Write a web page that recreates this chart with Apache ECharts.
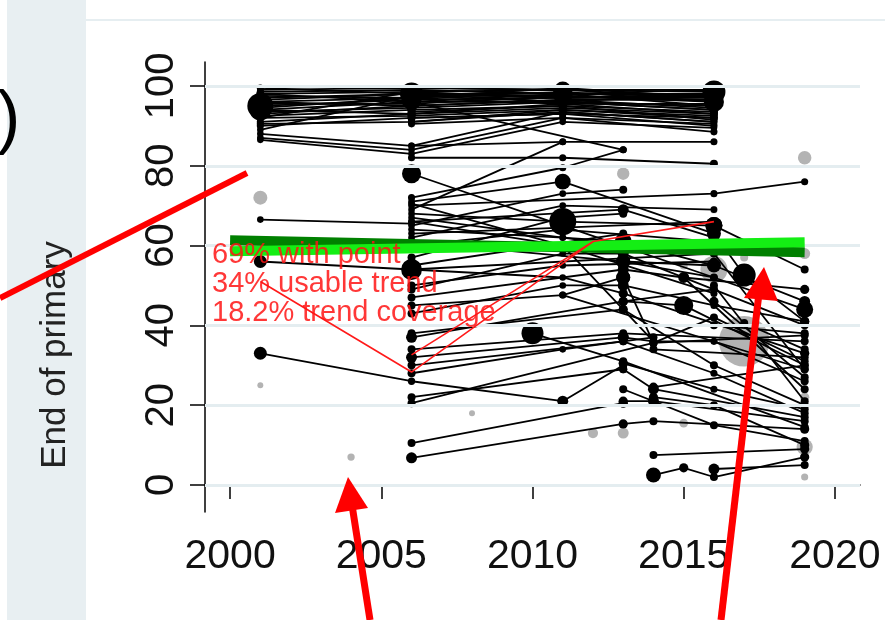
<!DOCTYPE html>
<html><head><meta charset="utf-8">
<script src="https://cdn.jsdelivr.net/npm/echarts@6/dist/echarts.min.js"></script>
<style>html,body{margin:0;padding:0;background:#fff}#c{width:885px;height:620px}</style>
</head><body><div id="c"></div>
<script>
// ---- data: [year, value, population weight] ----
const xTicks = [2000, 2005, 2010, 2015, 2020];
const yTicks = [0, 20, 40, 60, 80, 100];
const yTitle = 'End of primary';
const noteLines = ['69% with point', '34% usable trend', '18.2% trend coverage'];

const topPaths = [
  [[2001,99,0.3],[2006,99.5,0.3],[2011,99,0.3],[2016,99,0.3]],
  [[2001,98,1],[2006,98.5,2],[2011,99,16],[2016,98.5,36]],
  [[2001,97,4],[2006,98,36],[2011,98,25],[2016,97.5,4]],
  [[2001,96,16],[2006,97,4],[2011,98.5,1],[2016,96,25]],
  [[2001,95,49],[2006,96.5,25],[2011,97,4],[2016,97,4]],
  [[2001,94,30],[2006,96,9],[2011,96,2],[2016,95,2]],
  [[2001,93,2],[2006,95,4],[2011,96.5,1],[2016,94.5,1]],
  [[2001,92.5,1],[2006,94,1],[2011,95,1],[2016,93.5,1]],
  [[2001,91,0.5],[2006,93,1],[2011,94.5,0.5],[2016,93,0.5]],
  [[2001,90,0.5],[2006,92,0.5],[2011,93,0.5],[2016,92,0.5]],
  [[2001,89,0.3],[2006,97.5,0.5],[2011,97.5,0.5],[2016,96.5,0.5]],
  [[2001,88,0.3],[2006,85,0.3],[2011,93.5,0.3],[2016,91,0.3]],
  [[2001,87,0.3],[2006,84,0.3],[2011,92,0.3],[2016,90.5,0.3]],
  [[2001,86.5,0.3],[2006,83,0.3],[2011,91,0.3],[2016,89.5,0.3]],
  [[2006,99,0.5],[2011,98,0.5],[2016,98,1]],
  [[2006,91,0.5],[2011,94,0.5],[2016,92.5,0.5]],
  [[2006,96,0.3],[2013,84,0.5]],
  [[2001,98.5,0.5],[2006,99,1],[2011,98,1],[2016,99,4]],
  [[2001,97.5,1],[2006,97,1],[2011,99.5,1],[2016,97,1]],
  [[2001,96.5,2],[2006,98,4],[2011,96,1],[2016,98,2]],
  [[2001,95.5,4],[2006,95.5,2],[2011,97.5,1],[2016,96,2]],
  [[2001,94.5,9],[2006,97,2],[2011,95.5,1],[2016,95.5,1]],
  [[2001,93.5,1],[2006,94.5,2],[2011,96,1],[2016,94,1]],
  [[2006,93.5,1],[2011,95,1],[2016,91.5,0.5]],
  [[2006,92,1],[2011,93,0.5],[2016,90,0.5]],
  [[2006,90.5,0.5],[2011,92,0.5],[2016,88.5,0.5]],
  [[2001,92,0.5],[2006,98.5,2],[2011,97,2],[2016,97.5,2]],
  [[2001,99.5,0.5],[2006,98,1],[2011,97,1],[2016,98,2]],
  [[2001,98,0.5],[2006,96,1],[2011,98,1],[2016,95,1]],
  [[2001,96,1],[2006,95,1],[2011,96.5,1],[2016,96.5,1]],
  [[2001,94,1],[2006,93,1],[2011,95.5,1],[2016,93,1]],
  [[2001,92,0.5],[2006,92.5,1],[2011,94,1],[2016,92,1]],
  [[2001,90.5,0.5],[2006,91,0.5],[2011,93.5,0.5],[2016,91,0.5]],
  [[2006,99.5,1],[2011,99,1],[2016,97,1]],
  [[2006,97.5,1],[2011,96,1],[2016,94,1]]
];

const midPaths = [
  [[2001,66.5,0.3],[2006,65.5,0.3]],
  [[2001,56,7],[2006,54,28],[2016,58,0.5]],
  [[2001,33,7],[2006,26,0.6],[2011,21,4],[2013,30,1]],
  [[2006,85,0.3],[2011,86,0.5],[2016,86,0.5]],
  [[2006,82,0.5],[2011,82,0.5],[2016,80.5,1]],
  [[2006,78,22],[2011,65,0.3],[2016,52,0.5]],
  [[2006,72,0.5],[2011,79.5,0.5],[2013,84,0.5]],
  [[2006,71,0.3],[2011,76,13],[2016,63,1]],
  [[2006,69,0.3],[2011,86,0.3]],
  [[2006,70,0.3],[2016,73,0.5],[2019,76,0.5]],
  [[2006,68,0.3],[2011,66,54],[2016,65,16]],
  [[2006,66,0.3],[2013,69,4],[2016,62,4]],
  [[2006,64,0.3],[2011,62,0.5],[2013,61,16]],
  [[2006,62,0.3],[2011,70,0.3],[2016,69,0.3]],
  [[2006,61,1],[2013,56,9],[2016,55,4]],
  [[2006,49,1],[2011,58,0.3],[2013,58,4]],
  [[2006,45,1],[2011,47.6,0.5],[2013,52,9]],
  [[2006,37,4],[2013,46,2],[2016,49,1]],
  [[2006,32,4],[2013,37,4]],
  [[2006,22,1],[2013,29,1]],
  [[2006,20.5,1],[2014,35.6,1]],
  [[2006,10.5,1],[2013,20.5,2]],
  [[2006,6.8,4],[2013,15.3,2]],
  [[2010,38,32],[2013,31,1],[2019,14.5,1]],
  [[2006,54,4],[2011,52,0.3],[2013,48,1]],
  [[2006,66,0.3],[2011,60,0.3],[2014,36,1]],
  [[2011,47.6,0.5],[2019,29,1]],
  [[2006,70.5,0.3],[2011,60,0.3],[2016,48,0.5]],
  [[2006,67,0.3],[2013,60,1]],
  [[2006,65,0.3],[2011,73,0.3],[2013,74,1]],
  [[2006,63,0.3],[2016,66,1]],
  [[2006,60,0.3],[2011,64,0.3],[2016,61,1]],
  [[2006,57,1],[2011,67,0.3],[2013,68,1]],
  [[2006,55,1],[2013,63,1]],
  [[2006,50,1],[2011,55,0.3],[2016,56,1]],
  [[2006,47,1],[2013,54,2]],
  [[2006,43,1],[2011,50,0.3],[2013,50,2]],
  [[2006,38,1],[2013,44,2]],
  [[2006,34,1],[2013,38,1],[2019,36,1]],
  [[2006,30,1],[2013,36,1]],
  [[2006,28,1],[2011,34,0.3],[2014,37,1]]
];

const latePaths = [
  [[2013,56,9],[2016,52,1],[2019,44,16]],
  [[2013,54,4],[2015,52,4],[2019,49,2]],
  [[2013,52,9],[2014,35.6,1],[2019,37.5,1]],
  [[2013,50,4],[2016,45,0.5],[2019,41,2]],
  [[2013,48,2],[2019,33,2]],
  [[2013,46,2],[2015,45,22],[2019,30,1]],
  [[2013,37,4],[2014,36,0.5],[2016,36,0.5],[2019,26,1]],
  [[2013,30.5,2],[2016,24,0.5],[2019,19,1]],
  [[2013,29,1],[2014,24,4],[2019,17,1]],
  [[2013,21,2],[2014,21,4],[2019,16,1]],
  [[2013,15.3,1],[2014,16,1],[2019,14,2]],
  [[2014,7.5,1],[2019,9,2]],
  [[2014,2.5,11],[2015,4.3,2],[2016,2,1],[2019,7,2]],
  [[2016,4,4],[2019,5,1]],
  [[2014,24.5,2],[2019,30,1]],
  [[2016,65,16],[2019,54,1]],
  [[2016,63,9],[2017,52.6,36],[2019,41,2]],
  [[2017,40.6,1],[2019,34,1]],
  [[2016,58,1],[2019,29,1]],
  [[2016,50,1],[2019,21,1]],
  [[2013,61,4],[2016,55,9],[2019,46,4]],
  [[2015,52,2],[2019,24,1]],
  [[2014,35.6,1],[2016,42,1],[2019,31,1]],
  [[2013,58,2],[2019,40,1]],
  [[2013,44,1],[2016,30,1],[2019,20,1]],
  [[2013,36,1],[2016,28,0.5],[2019,18,1]],
  [[2014,22,2],[2016,20,1],[2019,10,2]],
  [[2013,24,1],[2016,15,1],[2019,11,1]],
  [[2014,34,1],[2019,32,1]],
  [[2016,46,2],[2019,27,1]],
  [[2016,40,1],[2019,38,1]]
];

const grayPoints = [
  [2001,72,9],[2001,25,0.1],[2004,7,0.6],[2008,18,0.1],[2012,13,3],[2013,13,4],
  [2013,78,6],[2015,15.5,1.5],[2016,54,54],[2016,69,0.6],[2016,57,1],[2017,57,1],
  [2017,36,230],[2019,82,8],[2019,58,4],[2019,22,2],[2019,9.5,14],[2019,2,0.5],[2015,55,1]
];

const trendDark = [[2000,61.3],[2019,58.3]];
const trendLight = [[2000,58.6],[2019,60.8]];
const redPathA = [[2001,51],[2006,28.3],[2012,61],[2016,66]];
const redPathB = [[2006,32.6],[2012,61]];

// ---- chart ----
const FONT = '"Liberation Sans", Arial, sans-serif';
function popSize(v) { return 5 + 3 * Math.sqrt(v[2] == null ? 0.3 : v[2]); }

const pathSeries = [...topPaths, ...midPaths, ...latePaths].map(p => ({
  type: 'line', data: p, symbol: 'circle', symbolSize: popSize, showAllSymbol: true,
  lineStyle: { color: '#000', width: 1.8 }, itemStyle: { color: '#000' },
  silent: true, animation: false, z: 3, emphasis: { disabled: true }
}));

const chart = echarts.init(document.getElementById('c'), null, { renderer: 'canvas' });
chart.setOption({
  animation: false,
  backgroundColor: '#fff',
  grid: { left: 205, top: 62, right: 25, bottom: 108, containLabel: false },
  xAxis: {
    type: 'value', min: 1999.17, max: 2020.83,
    axisLine: { show: true, lineStyle: { color: '#000', width: 1.5 } },
    axisTick: { show: true, customValues: xTicks, length: 14, lineStyle: { color: '#000', width: 1.5 } },
    axisLabel: { customValues: xTicks, formatter: v => String(v), fontSize: 41, fontFamily: FONT, color: '#111', margin: 24 },
    splitLine: { show: false }
  },
  yAxis: {
    type: 'value', min: -6.77, max: 106,
    axisLine: { show: true, lineStyle: { color: '#000', width: 1.5 } },
    axisTick: { show: true, customValues: yTicks, length: 15, lineStyle: { color: '#000', width: 1.5 } },
    axisLabel: { customValues: yTicks, formatter: v => String(v), rotate: 90, fontSize: 40, fontFamily: FONT, color: '#111', margin: 23 },
    splitLine: { show: false }
  },
  series: [
    {
      type: 'scatter', data: grayPoints, symbolSize: popSize, z: 2, silent: true,
      itemStyle: { color: '#b3b3b3', opacity: 1 },
      markLine: {
        silent: true, symbol: 'none', label: { show: false }, animation: false,
        lineStyle: { color: '#e4edf0', width: 3, type: 'solid' },
        data: yTicks.map(v => ({ yAxis: v }))
      }
    },
    ...pathSeries,
    { type: 'line', data: trendDark, symbol: 'none', z: 5, silent: true,
      lineStyle: { color: '#008000', width: 10 } },
    { type: 'line', data: trendLight, symbol: 'none', z: 5, silent: true,
      lineStyle: { color: '#14ee14', width: 10 } },
    { type: 'line', data: redPathA, symbol: 'none', z: 6, silent: true,
      lineStyle: { color: '#ff1a1a', width: 1.6 } },
    { type: 'line', data: redPathB, symbol: 'none', z: 6, silent: true,
      lineStyle: { color: '#ff1a1a', width: 1.6 } }
  ],
  graphic: [
    { type: 'rect', z: -10, shape: { x: 7, y: 0, width: 79, height: 620 }, style: { fill: '#e8eff2' } },
    { type: 'line', z: -10, shape: { x1: 86, y1: 20, x2: 885, y2: 20 }, style: { stroke: '#e6eef1', lineWidth: 2 } },
    { type: 'text', z: 50, x: -3, y: 121, style: { text: ')', font: '70px ' + FONT, fill: '#000', verticalAlign: 'middle' } },
    { type: 'text', z: 50, x: 55, y: 355, rotation: Math.PI / 2,
      style: { text: yTitle, font: '35px ' + FONT, fill: '#222', align: 'center', verticalAlign: 'middle' } },
    ...noteLines.map((t, i) => ({ type: 'text', z: 60, x: 212, y: 255 + i * 29,
      style: { text: t, font: '29px ' + FONT, fill: 'rgba(255,20,20,0.85)', verticalAlign: 'middle' } })),
    { type: 'line', z: 70, shape: { x1: 0, y1: 298, x2: 247, y2: 173 }, style: { stroke: '#ff0000', lineWidth: 6 } },
    { type: 'line', z: 70, shape: { x1: 370, y1: 620, x2: 352, y2: 505 }, style: { stroke: '#ff0000', lineWidth: 7 } },
    { type: 'polygon', z: 70, shape: { points: [[348, 477], [335, 513], [368, 508]] }, style: { fill: '#ff0000' } },
    { type: 'line', z: 70, shape: { x1: 721, y1: 620, x2: 759, y2: 293 }, style: { stroke: '#ff0000', lineWidth: 7 } },
    { type: 'polygon', z: 70, shape: { points: [[764, 267], [744, 298], [778, 301]] }, style: { fill: '#ff0000' } }
  ]
});
</script></body></html>
